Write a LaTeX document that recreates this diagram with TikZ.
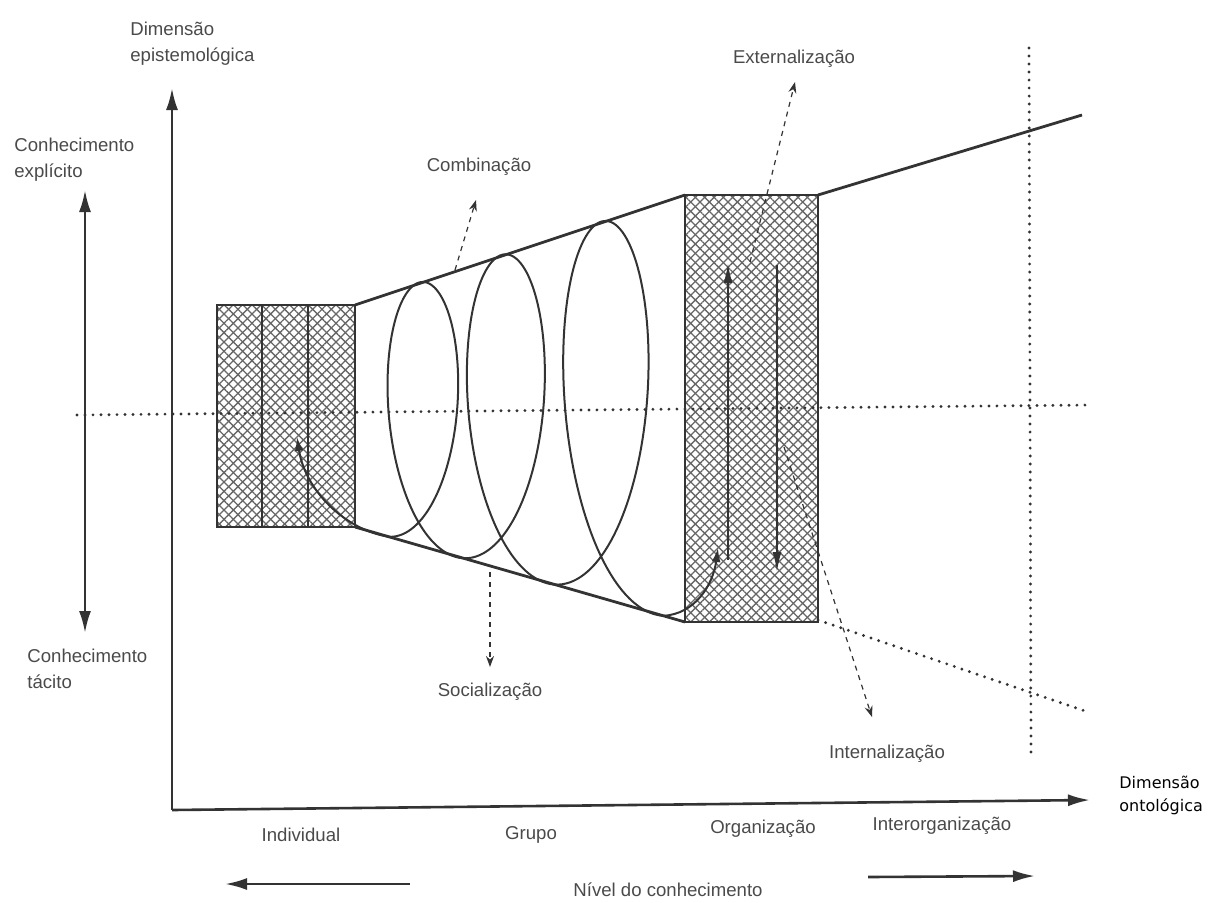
\documentclass[tikz,border=0pt]{standalone}
\usepackage{fontspec}
\setmainfont{Liberation Sans}
\newfontfamily\ontofont{DejaVu Sans}
\usetikzlibrary{arrows.meta,patterns.meta}
\definecolor{ink}{HTML}{333333}
\definecolor{scan}{HTML}{4A4A4A}
\tikzset{
  axtip/.tip={Latex[length=11pt,width=6pt]},
  axis/.style={draw=ink,line width=1.3pt},
  edge/.style={draw=ink,line width=1.4pt},
  hatch/.style={pattern={Lines[angle=45,distance=3.3pt,line width=0.65pt]},pattern color=black!60,
    postaction={pattern={Lines[angle=-45,distance=3.3pt,line width=0.65pt]},pattern color=black!60}},
  dots/.style={draw=ink,line width=1.6pt,line cap=round,dash pattern=on 0pt off 4pt},
  hint/.style={draw=ink,line width=0.6pt,dash pattern=on 2.5pt off 2.5pt,-{Stealth[length=5.5pt,width=4pt]}},
  lbl/.style={text=scan,font=\fontsize{9.3}{13}\selectfont,align=left,inner sep=0pt},
}
\begin{document}
\begin{tikzpicture}[x=0.5pt,y=-0.5pt,
  declare function={sc(\t)=388.9+33*\t+2.125*\t*\t; sa(\t)=48.85+3.75*\t;
    sm(\u)=416-0.0227*(\u-355); sb(\u)=111+0.3106*(\u-355);}]
  \useasboundingbox (0,0) rectangle (1211,902);
  % axes
  \coordinate (O) at (172,810); \coordinate (ytip) at (172,88); \coordinate (xtip) at (1090,800);
  \draw[axis,-axtip] (O) -- (ytip);
  \draw[axis,-axtip] (O) -- (xtip);
  \coordinate (expl) at (85,190); \coordinate (tac) at (85,633);
  \draw[axis,axtip-axtip] (expl) -- (tac);
  \coordinate (indL) at (410,884); \coordinate (indR) at (225,884);
  \draw[axis,-axtip] (indL) -- (indR);
  \coordinate (intL) at (868,877); \coordinate (intR) at (1035,876);
  \draw[axis,-axtip] (intL) -- (intR);
  % boxes and cone
  \path[hatch] (217,305) rectangle (355,527);
  \path[hatch] (685,195) rectangle (818,622);
  \draw[edge] (217,305) rectangle (355,527);
  \draw[edge] (262,305) -- (262,527) (308,305) -- (308,527);
  \draw[edge] (685,195) rectangle (818,622);
  \draw[edge] (355,305) -- (685,195) (355,527) -- (685,622);
  \draw[edge] (818,195) -- (1082,115);
  \draw[dots] (77,415) -- (1090,405);
  \draw[dots] (1029,48) -- (1031,752);
  \draw[dots] (818,620) -- (1088,712);
  % spiral
  \coordinate (spL) at (388.9,536.7); \coordinate (spR) at (663.4,615.8);
  \coordinate (inL) at (297,437); \coordinate (inR) at (718,548);
  \draw[ink,line width=1pt] plot[domain=0:6,samples=400,variable=\s]
    ({sc(\s)+sa(\s)*sin(180*\s)},{sm(sc(\s))+sb(sc(\s))*cos(180*\s)});
  \draw[ink,line width=1pt,-{Latex[length=7pt,width=4.5pt]}] (spL) .. controls (345,530) and (305,490) .. (inL);
  \draw[ink,line width=1pt,-{Latex[length=7pt,width=4.5pt]}] (spR) .. controls (695,614) and (713,585) .. (inR);
  \coordinate (upB) at (728,560); \coordinate (upT) at (728,263);
  \coordinate (dnT) at (777,265); \coordinate (dnB) at (777,572);
  \draw[ink,line width=1pt,-{Latex[length=10pt,width=4.5pt]}] (upB) -- (upT);
  \draw[ink,line width=1pt,-{Latex[length=10pt,width=4.5pt]}] (dnT) -- (dnB);
  % labels
  \node[lbl,anchor=north west] (epis) at (130,22) {Dimensão\\epistemológica};
  \node[lbl,anchor=north west] (explicit) at (14,138) {Conhecimento\\explícito};
  \node[lbl,anchor=north west] (tacit) at (27,649) {Conhecimento\\tácito};
  \node[lbl] (comb) at (479,167) {Combinação};
  \node[lbl] (soc) at (490,692) {Socialização};
  \node[lbl] (ext) at (794,59) {Externalização};
  \node[lbl] (inter) at (887,754) {Internalização};
  \node[lbl] (indiv) at (301,835) {Individual};
  \node[lbl] (grupo) at (531,835) {Grupo};
  \node[lbl] (org) at (763,829) {Organização};
  \node[lbl] (interorg) at (942,826) {Interorganização};
  \node[lbl] (nivel) at (668,890) {Nível do conhecimento};
  \node[anchor=north west,align=left,inner sep=0pt,font=\ontofont\fontsize{8}{11.5}\selectfont] (onto) at (1119,776) {Dimensão\\ontológica};
  % hints
  \coordinate (combA) at (455,270); \coordinate (combB) at (476,200);
  \coordinate (socA) at (490,572); \coordinate (socB) at (490,667);
  \coordinate (extA) at (750,262); \coordinate (extB) at (795,82);
  \coordinate (intA) at (784,447); \coordinate (intB) at (872,717);
  \draw[hint] (combA) -- (combB);
  \draw[hint] (socA) -- (socB);
  \draw[hint] (extA) -- (extB);
  \draw[hint] (intA) -- (intB);
\end{tikzpicture}
\end{document}
